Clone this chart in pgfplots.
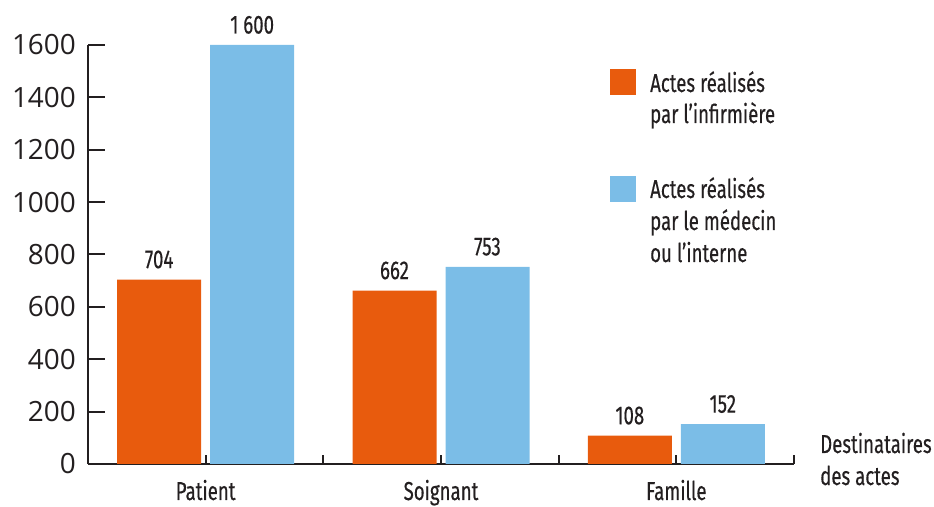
\documentclass[border=0pt]{standalone}
\usepackage{pgfplots}
\pgfplotsset{compat=1.18}
\usepackage{fontspec}
\setmainfont{Open Sans}
\newfontfamily\condfont[FakeStretch=0.72, FakeBold=0.4]{Fira Sans}
\definecolor{orangebar}{RGB}{232,91,13}
\definecolor{bluebar}{RGB}{123,189,231}
\definecolor{txt}{RGB}{35,31,32}
\newcommand{\cf}{\condfont\fontsize{26}{30}\selectfont}
\begin{document}
\begin{tikzpicture}
\begin{axis}[
  scale only axis, width=706bp, height=419bp,
  at={(88bp,43bp)}, anchor=south west,
  xmin=-0.5, xmax=2.5, ymin=0, ymax=1600,
  clip=false,
  axis x line*=bottom, axis y line*=left,
  axis line style={draw=txt, line width=2bp, -},
  ybar=9bp, bar width=84bp,
  tick align=inside,
  xtick={0.5,1.5,2.5}, xticklabels={},
  xtick style={draw=txt, line width=2bp, /pgfplots/major tick length=9bp},
  extra x ticks={0,1,2}, extra x tick labels={Patient,Soignant,Famille},
  extra x tick style={/pgfplots/major tick length=0pt, tick style={draw=none}},
  ytick={0,200,...,1600},
  ytick style={draw=txt, line width=2bp, /pgfplots/major tick length=17bp},
  /pgf/number format/1000 sep={},
  /pgf/number format/assume math mode=true,
  yticklabel style={font=\fontsize{28}{30}\selectfont, text=txt, inner sep=0pt, xshift=-12bp},
  xticklabel style={font=\cf, text=txt, inner sep=0pt, anchor=base, yshift=-36bp},
  point meta=explicit symbolic,
  nodes near coords,
  every node near coord/.append style={font=\cf, text=txt, inner sep=0pt, yshift=11bp},
]
\addplot[fill=orangebar, draw=none] coordinates {(0,704)[704] (1,662)[662] (2,108)[108]};
\addplot[fill=bluebar, draw=none] coordinates {(0,1600)[1\ 600] (1,753)[753] (2,152)[152]};
\end{axis}
\fill[orangebar] (610bp,412bp) rectangle (636bp,438bp);
\node[anchor=base west, inner sep=0pt, font=\cf, text=txt] at (650bp,415bp) {Actes réalisés};
\node[anchor=base west, inner sep=0pt, font=\cf, text=txt] at (650bp,384bp) {par l’infirmière};
\fill[bluebar] (610bp,305bp) rectangle (636bp,331bp);
\node[anchor=base west, inner sep=0pt, font=\cf, text=txt] at (650bp,309bp) {Actes réalisés};
\node[anchor=base west, inner sep=0pt, font=\cf, text=txt] at (650bp,277bp) {par le médecin};
\node[anchor=base west, inner sep=0pt, font=\cf, text=txt] at (650bp,245bp) {ou l’interne};
\node[anchor=base west, inner sep=0pt, font=\cf, text=txt] at (820bp,54bp) {Destinataires};
\node[anchor=base west, inner sep=0pt, font=\cf, text=txt] at (820bp,22bp) {des actes};
\pgfresetboundingbox
\path[use as bounding box] (0,0) rectangle (934bp,507bp);
\end{tikzpicture}
\end{document}
